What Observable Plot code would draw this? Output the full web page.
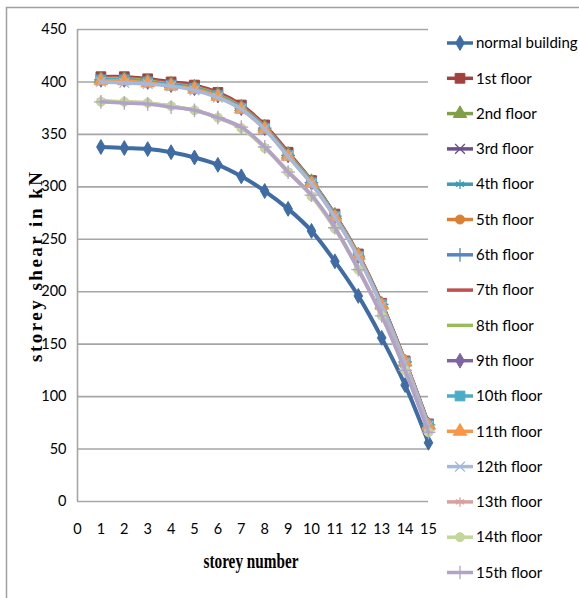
<!DOCTYPE html>
<html><head><meta charset="utf-8">
<script src="https://cdn.jsdelivr.net/npm/d3@7"></script>
<script src="https://cdn.jsdelivr.net/npm/@observablehq/plot@0.6"></script>
<style>body{margin:0;background:#fff;} #chart svg{display:block;}</style>
</head><body><div id="chart"></div>
<script>
const storeys = [1,2,3,4,5,6,7,8,9,10,11,12,13,14,15];
const xTicks = [0,1,2,3,4,5,6,7,8,9,10,11,12,13,14,15];
const yTicks = [0,50,100,150,200,250,300,350,400,450];

const seriesNames = ["normal building","1st floor","2nd floor","3rd floor","4th floor","5th floor","6th floor","7th floor","8th floor","9th floor","10th floor","11th floor","12th floor","13th floor","14th floor","15th floor"];
const seriesColors = ["#3F6CA5","#A3413E","#80A047","#6B4F8E","#3E9BB3","#DD7F33","#5586C4","#C0504D","#9BBB59","#8064A2","#4BACC6","#F79646","#A7B9DB","#D9A0A0","#C3D69B","#B3A2C7"];
const seriesSymbols = ["diamond","square","triangle","times","asterisk","circle","plus",null,null,"diamond","square","triangle","times","asterisk","circle","plus"];

const normalBuilding = [338,337,336,333,328,321,310,296,279,258,229,196,156,111,56];
const floor1  = [405,405,403,400,397,390,378,359,333,306,274,236,189,134,74];
const floor2  = [403,403,401,398,395,388,376,357,331,305,273,235,188,133,73];
const floor3  = [403,403,401,398,395,388,376,357,331,305,273,235,188,133,73];
const floor4  = [402,402,400,397,394,387,375,356,330,304,272,234,188,133,73];
const floor5  = [402,402,400,397,394,387,375,356,330,304,272,234,188,133,73];
const floor6  = [402,402,400,397,394,387,375,356,330,304,272,234,188,133,73];
const floor7  = [404,404,402,399,396,389,377,358,332,305,273,235,189,134,74];
const floor8  = [403,403,401,398,395,388,376,357,331,305,273,235,188,133,73];
const floor9  = [402,402,400,397,394,387,375,356,330,304,272,234,188,133,73];
const floor10 = [402,402,400,397,394,387,375,356,330,304,272,234,188,133,73];
const floor11 = [401,401,399,396,393,386,374,355,329,303,271,234,187,133,72];
const floor12 = [400,399,398,396,392,385,374,355,329,303,271,233,186,132,72];
const floor13 = [382,381,380,377,373,366,356,338,315,292,261,222,178,126,67];
const floor14 = [381,381,380,377,373,366,356,337,314,291,260,221,177,125,66];
const floor15 = [381,380,379,376,373,366,357,338,314,292,261,221,177,125,66];

const seriesValues = [normalBuilding,floor1,floor2,floor3,floor4,floor5,floor6,floor7,floor8,floor9,floor10,floor11,floor12,floor13,floor14,floor15];

const rows = seriesNames.flatMap((name, i) => storeys.map((s, j) => ({name, idx: i, storey: s, shear: seriesValues[i][j]})));

const filledSymbols = ["diamond","square","triangle","circle"];
const symbolR = {diamond: 4.5, square: 5.5, triangle: 5, circle: 4.5, times: 4.5, asterisk: 4.5, plus: 4.5};
const sansFont = "Lato,'DejaVu Sans Condensed',sans-serif";

const marks = [
  Plot.ruleY(yTicks, {stroke: "#a6a6a6", strokeWidth: 1.6}),
  Plot.ruleX([0], {y1: 0, y2: 450, stroke: "#a6a6a6", strokeWidth: 1.6}),
  Plot.axisY(yTicks, {tickSize: 0, tickPadding: 11, label: null, fill: "#000"}),
  Plot.axisX(xTicks, {tickSize: 0, tickPadding: 22, label: null, fill: "#000"})
];

seriesNames.forEach((name, i) => {
  const data = rows.filter(d => d.idx === i);
  const c = seriesColors[i];
  marks.push(Plot.line(data, {x: "storey", y: "shear", stroke: c, strokeWidth: i === 0 ? 4 : 3.5, curve: "catmull-rom"}));
  const sym = seriesSymbols[i];
  if (sym) {
    const filled = filledSymbols.includes(sym);
    marks.push(Plot.dot(data, {x: "storey", y: "shear", symbol: sym, r: symbolR[sym],
      fill: filled ? c : "none", stroke: c, strokeWidth: filled ? 1 : 1.3}));
  }
});

const chart = Plot.plot({
  width: 579, height: 598,
  marginLeft: 77, marginRight: 151, marginTop: 29, marginBottom: 97,
  x: {domain: [0, 15]},
  y: {domain: [0, 450]},
  style: {fontFamily: sansFont, fontSize: "14.5px", color: "#000", background: "#fff"},
  marks
});
document.getElementById("chart").appendChild(chart);

const svg = d3.select(chart);
// outer chart frame
svg.insert("rect", ":first-child").attr("x", 6.5).attr("y", 7.5).attr("width", 700).attr("height", 700)
  .attr("fill", "none").attr("stroke", "#a0a0a0").attr("stroke-width", 1.5);

// axis titles
svg.append("text").attr("transform", "translate(42,267) rotate(-90)")
  .attr("text-anchor", "middle").attr("font-family", "'Liberation Serif','Times New Roman',serif")
  .attr("font-weight", "bold").attr("font-size", 19).attr("fill", "#000")
  .attr("textLength", 190).attr("lengthAdjust", "spacing")
  .text("storey shear in kN");
svg.append("text").attr("x", 251).attr("y", 568)
  .attr("text-anchor", "middle").attr("font-family", "'Liberation Serif','Times New Roman',serif")
  .attr("font-weight", "bold").attr("font-size", 20).attr("fill", "#000")
  .attr("textLength", 95).attr("lengthAdjust", "spacingAndGlyphs")
  .text("storey number");

// legend
const d3Sym = {diamond: d3.symbolDiamond, square: d3.symbolSquare, triangle: d3.symbolTriangle, circle: d3.symbolCircle, times: d3.symbolTimes, asterisk: d3.symbolAsterisk, plus: d3.symbolPlus};
const lg = svg.append("g").attr("text-anchor", "start");
seriesNames.forEach((name, i) => {
  const y = 43 + i * 35.3;
  const c = seriesColors[i];
  const g = lg.append("g").attr("transform", `translate(0,${y})`);
  g.append("line").attr("x1", 447).attr("x2", 473).attr("y1", 0).attr("y2", 0)
    .attr("stroke", c).attr("stroke-width", 3.5);
  const sym = seriesSymbols[i];
  if (sym) {
    const filled = filledSymbols.includes(sym);
    const r = symbolR[sym];
    g.append("path").attr("transform", "translate(460,0)")
      .attr("d", d3.symbol(d3Sym[sym], Math.PI * r * r)())
      .attr("fill", filled ? c : "none").attr("stroke", c).attr("stroke-width", filled ? 1 : 1.3);
  }
  g.append("text").attr("x", 476).attr("dy", "0.35em").attr("text-anchor", "start")
    .attr("font-family", sansFont)
    .attr("font-size", 15).attr("fill", "#000").text(name);
});
</script>
</body></html>
